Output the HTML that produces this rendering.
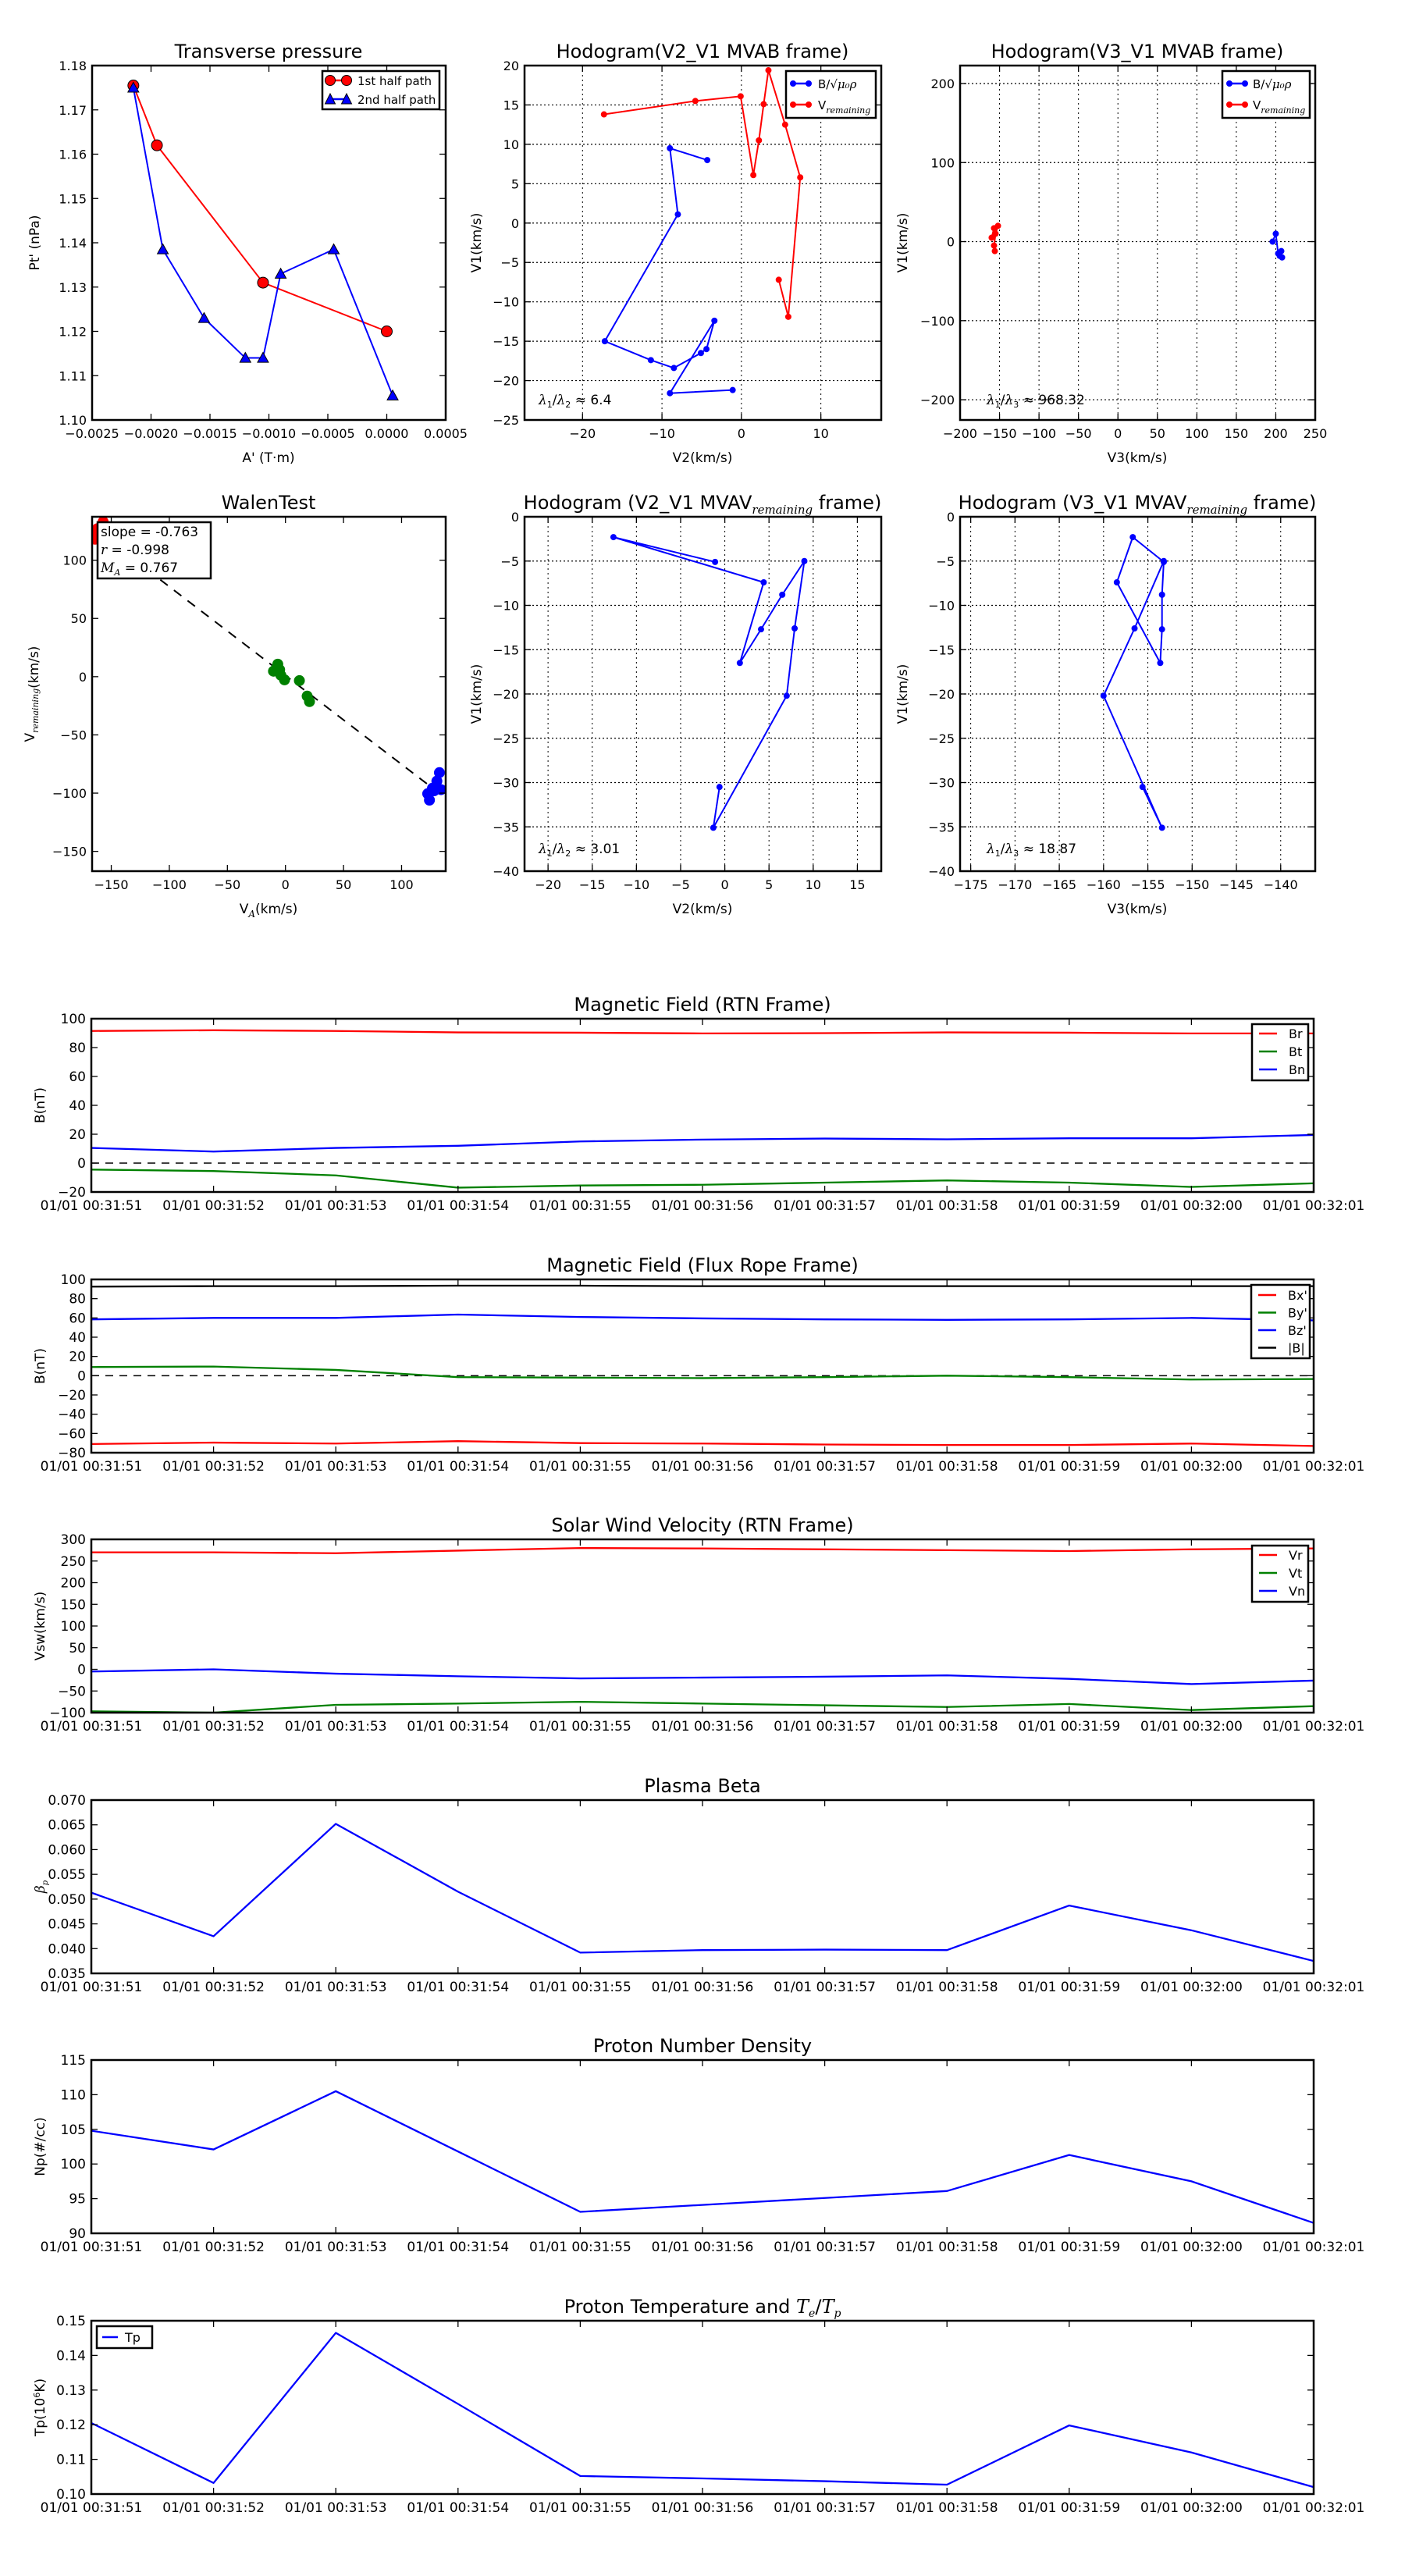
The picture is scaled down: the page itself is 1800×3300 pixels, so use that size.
<!DOCTYPE html>
<html><head><meta charset="utf-8"><title>Flux rope analysis</title>
<style>
html,body{margin:0;padding:0;background:#fff;}
svg{display:block;font-family:"DejaVu Sans","Liberation Sans",sans-serif;}
.m{font-family:"DejaVu Serif","Liberation Serif",serif;font-style:italic;}
</style></head>
<body>
<svg id="fig" xmlns="http://www.w3.org/2000/svg" width="1800" height="3300" viewBox="0 0 1800 3300">
<rect x="0" y="0" width="1800" height="3300" fill="#fff"/>
<defs id="defs"></defs>
</svg>
<script>
// ---------- data ----------
const tpRedX=[-0.00215,-0.00195,-0.00105,0.0];
const tpRedY=[1.1755,1.162,1.131,1.120];
const tpBlueX=[-0.00215,-0.0019,-0.00155,-0.0012,-0.00105,-0.0009,-0.00045,0.00005];
const tpBlueY=[1.175,1.1385,1.123,1.114,1.114,1.133,1.1385,1.1055];
const tpXTicks=[-0.0025,-0.002,-0.0015,-0.001,-0.0005,0,0.0005];
const tpXTickLabels=["−0.0025","−0.0020","−0.0015","−0.0010","−0.0005","0.0000","0.0005"];
const tpYTicks=[1.10,1.11,1.12,1.13,1.14,1.15,1.16,1.17,1.18];

const hbBlueX=[-4.3,-9,-8,-17.2,-11.4,-8.5,-5.1,-4.4,-3.4,-9,-1.1];
const hbBlueY=[8.0,9.5,1.1,-15,-17.4,-18.4,-16.5,-16.0,-12.4,-21.6,-21.2];
const hbRedX=[-17.3,-5.8,-0.1,1.5,2.2,2.8,3.4,5.5,7.4,5.9,4.7];
const hbRedY=[13.8,15.5,16.1,6.1,10.5,15.1,19.4,12.5,5.8,-11.9,-7.2];
const hbXTicks=[-20,-10,0,10];
const hbYTicks=[-25,-20,-15,-10,-5,0,5,10,15,20];

const hcRedX=[-160,-157,-152,-155,-157,-156];
const hcRedY=[5,17,20,10,-5,-12];
const hcBlueX=[196,200,203,207,208,205];
const hcBlueY=[0,10,-15,-12,-20,-18];
const hcXTicks=[-200,-150,-100,-50,0,50,100,150,200,250];
const hcYTicks=[-200,-100,0,100,200];

const walRedX=[-163,-162,-157,-164];
const walRedY=[122,127,133,118];
const walGreenX=[-10.3,-8,-6.6,-5,-4,-0.8,12,18.7,20.7];
const walGreenY=[4.7,7,10.7,6,1.3,-2.7,-3.4,-16.7,-21.4];
const walBlueX=[122.5,132.6,130.4,126.6,124,134,128];
const walBlueY=[-100.5,-82.4,-89.7,-95.8,-106,-97,-98];
const walSlope=-0.763, walIntercept=1;
const walXTicks=[-150,-100,-50,0,50,100];
const walYTicks=[-150,-100,-50,0,50,100];

const hdX=[-1.1,-12.6,4.4,1.7,4.1,6.5,9.0,7.9,7.0,-1.3,-0.6];
const hdY=[-5.1,-2.3,-7.4,-16.5,-12.7,-8.8,-5.0,-12.6,-20.2,-35.1,-30.5];
const heX=[-153.2,-156.7,-158.5,-153.6,-153.4,-153.4,-153.2,-156.5,-160,-153.4,-155.6];
const heY=[-5.1,-2.3,-7.4,-16.5,-12.7,-8.8,-5.0,-12.6,-20.2,-35.1,-30.5];
const hdXTicks=[-20,-15,-10,-5,0,5,10,15];
const heXTicks=[-175,-170,-165,-160,-155,-150,-145,-140];
const hdYTicks=[-40,-35,-30,-25,-20,-15,-10,-5,0];

const timeLabels=["01/01 00:31:51","01/01 00:31:52","01/01 00:31:53","01/01 00:31:54","01/01 00:31:55","01/01 00:31:56","01/01 00:31:57","01/01 00:31:58","01/01 00:31:59","01/01 00:32:00","01/01 00:32:01"];
const Br=[91.5,92,91.5,90.5,90.3,89.8,90,90.5,90.3,89.8,89.8];
const Bt=[-4.5,-5.5,-8.5,-17,-15.5,-15,-13.5,-12,-13.5,-16.5,-14];
const Bn=[10.5,8,10.5,12,15,16.3,17,16.5,17.2,17.2,19.5];
const Bx=[-71,-69.5,-70.5,-68,-70,-70.5,-71.5,-72,-72,-70.5,-73];
const By=[9,9.5,6,-1.5,-2,-2.5,-1.5,0,-1.5,-4,-3.5];
const Bz=[58.5,60,60,63.5,61,59.5,58.5,58,58.5,60,57.5];
const Bmag=[92.5,93,93,93.5,93.5,93,93,93,93,93,93];
const Vr=[270,270,268,274,280,279,277,275,273,277,279];
const Vt=[-97,-100,-82,-79,-75,-79,-83,-87,-80,-94,-85];
const Vn=[-5,0,-10,-16,-21,-19,-17,-14,-22,-34,-26];
const beta=[0.0513,0.0425,0.0652,0.0515,0.0392,0.0397,0.0398,0.0397,0.0487,0.0437,0.0375];
const Np=[104.8,102.1,110.5,101.8,93.1,94.1,95.1,96.1,101.3,97.5,91.5];
const Tp=[0.1205,0.1032,0.1465,0.126,0.1052,0.1045,0.1037,0.1027,0.1198,0.1120,0.1020];
const yt1=[-20,0,20,40,60,80,100];
const yt2=[-80,-60,-40,-20,0,20,40,60,80,100];
const yt3=[-100,-50,0,50,100,150,200,250,300];
const yt4=[0.035,0.040,0.045,0.050,0.055,0.060,0.065,0.070];
const yt5=[90,95,100,105,110,115];
const yt6=[0.10,0.11,0.12,0.13,0.14,0.15];

// ---------- helpers ----------
const NS='http://www.w3.org/2000/svg';
const svg=document.getElementById('fig');
const defs=document.getElementById('defs');
let clipN=0;
function mk(tag,attrs,parent){const e=document.createElementNS(NS,tag);for(const k in attrs)e.setAttribute(k,attrs[k]);(parent||svg).appendChild(e);return e;}
function fmt(v,d){const s=Math.abs(v).toFixed(d);return (v<-1e-12?'−':'')+s;}
function makeAxes(name,x0,x1,y0,y1,xmin,xmax,ymin,ymax){
  const g=mk('g',{});
  
  
  const id='clip'+(clipN++);
  const cp=mk('clipPath',{id:id},defs);
  mk('rect',{x:x0,y:y0,width:x1-x0,height:y1-y0},cp);
  const plot=mk('g',{'clip-path':'url(#'+id+')'},g);
  
  
  return {g,plot,x0,x1,y0,y1,sx:v=>x0+(v-xmin)/(xmax-xmin)*(x1-x0),sy:v=>y1-(v-ymin)/(ymax-ymin)*(y1-y0)};
}
function grid(ax,xt,yt){
  xt.forEach(v=>{const l=mk('line',{x1:ax.sx(v),x2:ax.sx(v),y1:ax.y0,y2:ax.y1,stroke:'#000','stroke-width':1,'stroke-dasharray':'2,4'},ax.plot);
    
    });
  yt.forEach(v=>{const l=mk('line',{x1:ax.x0,x2:ax.x1,y1:ax.sy(v),y2:ax.sy(v),stroke:'#000','stroke-width':1.2,'stroke-dasharray':'2,3'},ax.plot);
    
    });
}
function frame(ax,xt,xl,yt,yl,fs){
  fs=fs||17;
  xt.forEach((v,i)=>{const x=ax.sx(v);
    const t1=mk('line',{x1:x,x2:x,y1:ax.y1,y2:ax.y1-8,stroke:'#000','stroke-width':1.3},ax.g);
    
    
    const t2=mk('line',{x1:x,x2:x,y1:ax.y0,y2:ax.y0+8,stroke:'#000','stroke-width':1.3},ax.g);
    
    
    const tx=mk('text',{x:x,y:ax.y1+23,'font-size':fs,'text-anchor':'middle'},ax.g);
    tx.textContent=xl[i];
    
    });
  yt.forEach((v,i)=>{const y=ax.sy(v);
    const t1=mk('line',{x1:ax.x0,x2:ax.x0+8,y1:y,y2:y,stroke:'#000','stroke-width':1.3},ax.g);
    
    
    const t2=mk('line',{x1:ax.x1,x2:ax.x1-8,y1:y,y2:y,stroke:'#000','stroke-width':1.3},ax.g);
    
    
    const tx=mk('text',{x:ax.x0-7,y:y+6,'font-size':fs,'text-anchor':'end'},ax.g);
    tx.textContent=yl[i];
    
    });
  const r=mk('rect',{x:ax.x0,y:ax.y0,width:ax.x1-ax.x0,height:ax.y1-ax.y0,fill:'none',stroke:'#000','stroke-width':2.5},ax.g);
  
  
}
function line(ax,xs,ys,color,w,name,dash){
  const p=mk('polyline',{points:xs.map((x,i)=>ax.sx(x)+','+ax.sy(ys[i])).join(' '),fill:'none',stroke:color,'stroke-width':w,'stroke-linejoin':'round'},ax.plot);
  if(dash)p.setAttribute('stroke-dasharray',dash);
  
  
  return p;
}
function dots(ax,xs,ys,color,r,name,stroke){
  xs.forEach((x,i)=>{const c=mk('circle',{cx:ax.sx(x),cy:ax.sy(ys[i]),r:r,fill:color,stroke:stroke||color,'stroke-width':1},ax.plot);
    
    });
}
function tris(ax,xs,ys,color,s,name){
  xs.forEach((x,i)=>{const cx=ax.sx(x),cy=ax.sy(ys[i]);
    const t=mk('polygon',{points:`${cx},${cy-s} ${cx-s},${cy+s*0.8} ${cx+s},${cy+s*0.8}`,fill:color,stroke:'#000','stroke-width':1},ax.plot);
    
    });
}
function text(x,y,str,size,anchor,name,rot,parent){
  const t=mk('text',{x:x,y:y,'font-size':size,'text-anchor':anchor||'middle'},parent);
  if(rot)t.setAttribute('transform',`rotate(-90 ${x} ${y})`);
  t.innerHTML=str;
  
  
  return t;
}
function box(x,y,w,h,name){
  const r=mk('rect',{x:x,y:y,width:w,height:h,fill:'#fff',stroke:'#000','stroke-width':2.5});
  
  
}
function legLine(x1,x2,y,color,name,marker){
  const l=mk('line',{x1:x1,x2:x2,y1:y,y2:y,stroke:color,'stroke-width':2.5});
  
  
  if(marker)[x1,x2].forEach(x=>{const c=mk('circle',{cx:x,cy:y,r:marker,fill:color,stroke:color});
    
    });
}
const SUBR='<tspan class="m" font-size="11" dy="5">remaining</tspan><tspan dy="-5"></tspan>';

// ---------- Transverse pressure ----------
(function(){
  const ax=makeAxes('transverse-pressure-chart',118,571,84,538,-0.0025,0.0005,1.10,1.18);
  line(ax,tpRedX,tpRedY,'#f00',2,'first-half-path-line');
  dots(ax,tpRedX,tpRedY,'#f00',7,'first-half-point','#000');
  line(ax,tpBlueX,tpBlueY,'#00f',2,'second-half-path-line');
  tris(ax,tpBlueX,tpBlueY,'#00f',7,'second-half-point');
  frame(ax,tpXTicks,tpXTickLabels,tpYTicks,tpYTicks.map(v=>v.toFixed(2)),16);
  text(344,74,'Transverse pressure',24,'middle','chart-title');
  text(344,592,"A' (T·m)",17,'middle','x-axis-title');
  text(50,311,"Pt' (nPa)",17,'middle','y-axis-title',true);
  box(413,91,150,49,'legend');
  legLine(423,444,103,'#f00','legend-first-half');
  [423,444].forEach(x=>{const c=mk('circle',{cx:x,cy:103,r:6.5,fill:'#f00',stroke:'#000'});});
  text(458,109,'1st half path',15,'start','legend-label');
  legLine(423,444,127,'#00f','legend-second-half');
  [423,444].forEach(x=>{const t=mk('polygon',{points:`${x},${120} ${x-6.5},${133} ${x+6.5},${133}`,fill:'#00f',stroke:'#000'});});
  text(458,133,'2nd half path',15,'start','legend-label');
})();

// ---------- Hodogram V2_V1 MVAB ----------
(function(){
  const ax=makeAxes('hodogram-v2-v1-mvab-chart',672,1129,84,538,-27.3,17.6,-25,20);
  grid(ax,hbXTicks,hbYTicks);
  line(ax,hbBlueX,hbBlueY,'#00f',2,'b-alfven-line');
  dots(ax,hbBlueX,hbBlueY,'#00f',3.5,'b-alfven-point');
  line(ax,hbRedX,hbRedY,'#f00',2,'v-remaining-line');
  dots(ax,hbRedX,hbRedY,'#f00',3.5,'v-remaining-point');
  frame(ax,hbXTicks,hbXTicks.map(v=>fmt(v,0)),hbYTicks,hbYTicks.map(v=>fmt(v,0)),16);
  text(900,74,'Hodogram(V2_V1 MVAB frame)',24,'middle','chart-title');
  text(900,592,'V2(km/s)',17,'middle','x-axis-title');
  text(616,311,'V1(km/s)',17,'middle','y-axis-title',true);
  text(690,518,'<tspan class="m">λ</tspan><tspan font-size="11" dy="4">1</tspan><tspan dy="-4">/</tspan><tspan class="m">λ</tspan><tspan font-size="11" dy="4">2</tspan><tspan dy="-4"> ≈ 6.4</tspan>',17,'start','eigenvalue-ratio');
  box(1007,91,115,60,'legend');
  legLine(1016,1036,107,'#00f','legend-b-alfven',3.5);
  text(1048,113,'B/√<tspan class="m">μ₀ρ</tspan>',15,'start','legend-label');
  legLine(1016,1036,134,'#f00','legend-v-remaining',3.5);
  text(1048,140,'V'+SUBR,15,'start','legend-label');
})();

// ---------- Hodogram V3_V1 MVAB ----------
(function(){
  const ax=makeAxes('hodogram-v3-v1-mvab-chart',1230,1685,84,538,-200,250,-225.6,222.7);
  grid(ax,hcXTicks,hcYTicks);
  line(ax,hcRedX,hcRedY,'#f00',2,'v-remaining-line');
  dots(ax,hcRedX,hcRedY,'#f00',3.5,'v-remaining-point');
  line(ax,hcBlueX,hcBlueY,'#00f',2,'b-alfven-line');
  dots(ax,hcBlueX,hcBlueY,'#00f',3.5,'b-alfven-point');
  frame(ax,hcXTicks,hcXTicks.map(v=>fmt(v,0)),hcYTicks,hcYTicks.map(v=>fmt(v,0)),16);
  text(1457,74,'Hodogram(V3_V1 MVAB frame)',24,'middle','chart-title');
  text(1457,592,'V3(km/s)',17,'middle','x-axis-title');
  text(1162,311,'V1(km/s)',17,'middle','y-axis-title',true);
  text(1264,518,'<tspan class="m">λ</tspan><tspan font-size="11" dy="4">1</tspan><tspan dy="-4">/</tspan><tspan class="m">λ</tspan><tspan font-size="11" dy="4">3</tspan><tspan dy="-4"> ≈ 968.32</tspan>',17,'start','eigenvalue-ratio');
  box(1566,91,112,60,'legend');
  legLine(1575,1595,107,'#00f','legend-b-alfven',3.5);
  text(1605,113,'B/√<tspan class="m">μ₀ρ</tspan>',15,'start','legend-label');
  legLine(1575,1595,134,'#f00','legend-v-remaining',3.5);
  text(1605,140,'V'+SUBR,15,'start','legend-label');
})();

// ---------- Walen test ----------
(function(){
  const ax=makeAxes('walen-test-chart',118,571,662,1116,-166.5,138,-167,137.3);
  const lx=[-166.5,138];
  line(ax,lx,lx.map(x=>walSlope*x+walIntercept),'#000',2,'fit-line','12,10');
  dots(ax,walRedX,walRedY,'#f00',6.5,'walen-red-point');
  dots(ax,walGreenX,walGreenY,'#008000',6.5,'walen-green-point');
  dots(ax,walBlueX,walBlueY,'#00f',6.5,'walen-blue-point');
  frame(ax,walXTicks,walXTicks.map(v=>fmt(v,0)),walYTicks,walYTicks.map(v=>fmt(v,0)),16);
  text(344,652,'WalenTest',24,'middle','chart-title');
  text(344,1170,'V<tspan class="m" font-size="12" dy="5">A</tspan><tspan dy="-5">(km/s)</tspan>',17,'middle','x-axis-title');
  text(44,889,'V'+SUBR+'(km/s)',17,'middle','y-axis-title',true);
  box(125,669,145,72,'stats-box');
  text(129,687,'slope = -0.763',17,'start','slope-text');
  text(129,710,'<tspan class="m">r</tspan> = -0.998',17,'start','r-text');
  text(129,733,'<tspan class="m">M</tspan><tspan class="m" font-size="11" dy="4">A</tspan><tspan dy="-4"> = 0.767</tspan>',17,'start','ma-text');
})();

// ---------- Hodogram V2_V1 MVAV ----------
(function(){
  const ax=makeAxes('hodogram-v2-v1-mvav-chart',672,1129,662,1116,-22.66,17.7,-40,0);
  grid(ax,hdXTicks,hdYTicks);
  line(ax,hdX,hdY,'#00f',2,'hodogram-line');
  dots(ax,hdX,hdY,'#00f',3.5,'hodogram-point');
  frame(ax,hdXTicks,hdXTicks.map(v=>fmt(v,0)),hdYTicks,hdYTicks.map(v=>fmt(v,0)),16);
  text(900,652,'Hodogram (V2_V1 MVAV<tspan class="m" font-size="15" dy="6">remaining</tspan><tspan dy="-6"> frame)</tspan>',24,'middle','chart-title');
  text(900,1170,'V2(km/s)',17,'middle','x-axis-title');
  text(616,889,'V1(km/s)',17,'middle','y-axis-title',true);
  text(690,1093,'<tspan class="m">λ</tspan><tspan font-size="11" dy="4">1</tspan><tspan dy="-4">/</tspan><tspan class="m">λ</tspan><tspan font-size="11" dy="4">2</tspan><tspan dy="-4"> ≈ 3.01</tspan>',17,'start','eigenvalue-ratio');
})();

// ---------- Hodogram V3_V1 MVAV ----------
(function(){
  const ax=makeAxes('hodogram-v3-v1-mvav-chart',1230,1685,662,1116,-176.2,-136.1,-40,0);
  grid(ax,heXTicks,hdYTicks);
  line(ax,heX,heY,'#00f',2,'hodogram-line');
  dots(ax,heX,heY,'#00f',3.5,'hodogram-point');
  frame(ax,heXTicks,heXTicks.map(v=>fmt(v,0)),hdYTicks,hdYTicks.map(v=>fmt(v,0)),16);
  text(1457,652,'Hodogram (V3_V1 MVAV<tspan class="m" font-size="15" dy="6">remaining</tspan><tspan dy="-6"> frame)</tspan>',24,'middle','chart-title');
  text(1457,1170,'V3(km/s)',17,'middle','x-axis-title');
  text(1162,889,'V1(km/s)',17,'middle','y-axis-title',true);
  text(1264,1093,'<tspan class="m">λ</tspan><tspan font-size="11" dy="4">1</tspan><tspan dy="-4">/</tspan><tspan class="m">λ</tspan><tspan font-size="11" dy="4">3</tspan><tspan dy="-4"> ≈ 18.87</tspan>',17,'start','eigenvalue-ratio');
})();

// ---------- Time series ----------
const idx=timeLabels.map((_,i)=>i);
function ts(name,top,ymin,ymax,yt,dec,title,ylab,series,zero){
  const ax=makeAxes(name,117,1683,top,top+222,0,10,ymin,ymax);
  if(zero){line(ax,[0,10],[0,0],'#000',1.5,'zero-line','10,8');}
  series.forEach(s=>line(ax,idx,s.v,s.c,2.3,s.n));
  frame(ax,idx,timeLabels,yt,yt.map(v=>fmt(v,dec)),17);
  text(900,top-10,title,24,'middle','chart-title');
  text(57,top+111,ylab,17,'middle','y-axis-title',true);
  return ax;
}
ts('magnetic-field-rtn-chart',1305,-20,100,yt1,0,'Magnetic Field (RTN Frame)','B(nT)',
  [{v:Br,c:'#f00',n:'br-line'},{v:Bt,c:'#008000',n:'bt-line'},{v:Bn,c:'#00f',n:'bn-line'}],true);
box(1604,1312,72,72,'legend');
[['Br','#f00'],['Bt','#008000'],['Bn','#00f']].forEach((e,i)=>{legLine(1613,1636,1324+i*23,e[1],'legend-'+e[0].toLowerCase());text(1651,1330+i*23,e[0],16,'start','legend-label');});

ts('magnetic-field-flux-rope-chart',1639,-80,100,yt2,0,'Magnetic Field (Flux Rope Frame)','B(nT)',
  [{v:Bmag,c:'#000',n:'b-magnitude-line'},{v:Bz,c:'#00f',n:'bz-line'},{v:By,c:'#008000',n:'by-line'},{v:Bx,c:'#f00',n:'bx-line'}],true);
box(1603,1646,75,94,'legend');
[["Bx'",'#f00'],["By'",'#008000'],["Bz'",'#00f'],['|B|','#000']].forEach((e,i)=>{legLine(1612,1635,1659+i*22.5,e[1],'legend-entry');text(1650,1665+i*22.5,e[0],16,'start','legend-label');});

ts('solar-wind-velocity-chart',1972,-100,300,yt3,0,'Solar Wind Velocity (RTN Frame)','Vsw(km/s)',
  [{v:Vr,c:'#f00',n:'vr-line'},{v:Vt,c:'#008000',n:'vt-line'},{v:Vn,c:'#00f',n:'vn-line'}],false);
box(1604,1980,72,72,'legend');
[['Vr','#f00'],['Vt','#008000'],['Vn','#00f']].forEach((e,i)=>{legLine(1613,1636,1992+i*23,e[1],'legend-'+e[0].toLowerCase());text(1651,1998+i*23,e[0],16,'start','legend-label');});

ts('plasma-beta-chart',2306,0.035,0.070,yt4,3,'Plasma Beta','<tspan class="m">β</tspan><tspan class="m" font-size="10" dy="4">p</tspan>',
  [{v:beta,c:'#00f',n:'beta-line'}],false);
ts('proton-density-chart',2639,90,115,yt5,0,'Proton Number Density','Np(#/cc)',
  [{v:Np,c:'#00f',n:'np-line'}],false);
ts('proton-temperature-chart',2973,0.10,0.15,yt6,2,'Proton Temperature and <tspan class="m">T</tspan><tspan class="m" font-size="14" dy="5">e</tspan><tspan dy="-5">/</tspan><tspan class="m">T</tspan><tspan class="m" font-size="14" dy="5">p</tspan>','Tp(10<tspan font-size="11" dy="-6">6</tspan><tspan dy="6">K)</tspan>',
  [{v:Tp,c:'#00f',n:'tp-line'}],false);
box(124,2980,71,28,'legend');
legLine(131,151,2994,'#00f','legend-tp');
text(160,3000,'Tp',16,'start','legend-label');
</script>
</body></html>
